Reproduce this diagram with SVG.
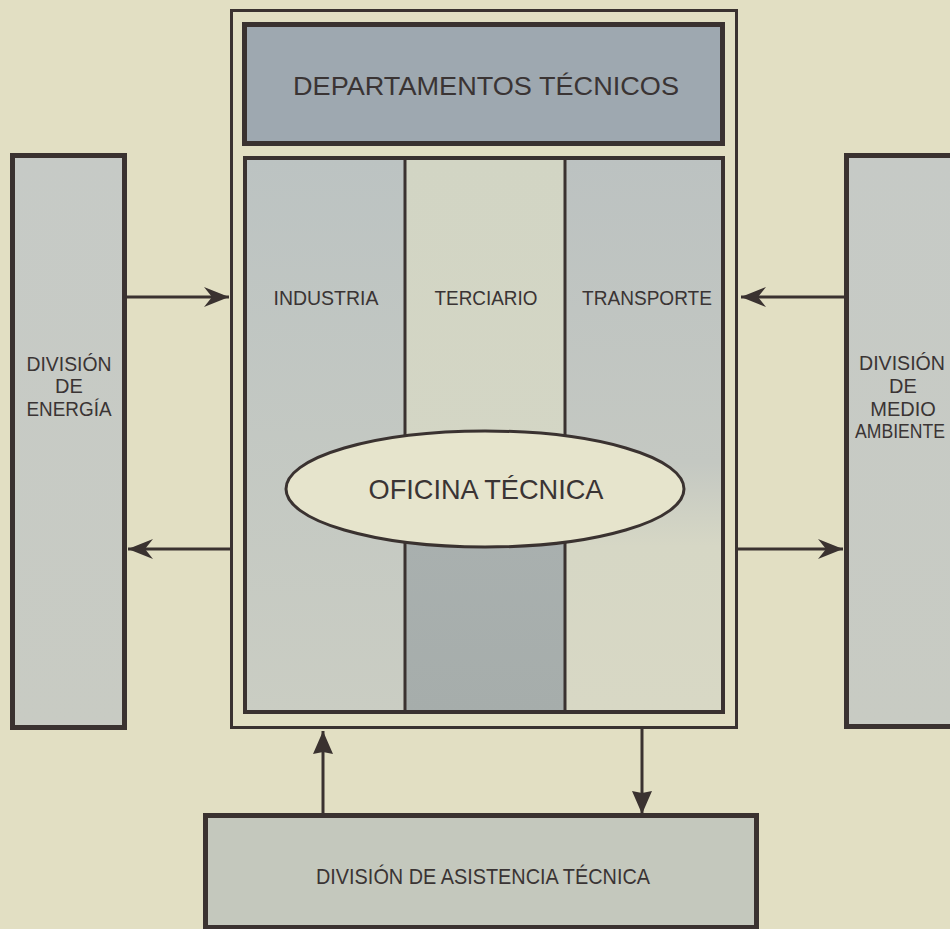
<svg xmlns="http://www.w3.org/2000/svg" width="950" height="929" viewBox="0 0 950 929">
<style>
.box{stroke:#3a3230;stroke-linejoin:miter}
.t{font-family:"Liberation Sans",Arial,sans-serif;fill:#3a3434;text-anchor:middle}
.con{stroke:#3a3230;stroke-width:3;fill:none}
</style>
<defs>
<linearGradient id="gCol1" x1="0" y1="0" x2="0" y2="1">
<stop offset="0" stop-color="#bcc3c2"/><stop offset="1" stop-color="#cacdc3"/>
</linearGradient>
<linearGradient id="gCol2" x1="0" y1="0" x2="0" y2="1">
<stop offset="0" stop-color="#d2d5c4"/><stop offset="0.59" stop-color="#d4d6c5"/><stop offset="0.59" stop-color="#aab1b0"/><stop offset="1" stop-color="#a6adab"/>
</linearGradient>
<linearGradient id="gCol3" x1="0" y1="0" x2="0" y2="1">
<stop offset="0" stop-color="#bcc2c1"/><stop offset="0.55" stop-color="#c4c8c2"/><stop offset="0.7" stop-color="#d6d7c5"/><stop offset="1" stop-color="#d8d8c5"/>
</linearGradient>
<linearGradient id="gSide" x1="0" y1="0" x2="0" y2="1">
<stop offset="0" stop-color="#c6cac6"/><stop offset="1" stop-color="#c8cbc3"/>
</linearGradient>
<marker id="barb" viewBox="-26 -12 28 24" refX="0" refY="0" markerWidth="28" markerHeight="24" markerUnits="userSpaceOnUse" orient="auto">
<path d="M0,0 L-25,-10 L-17,0 L-25,10 Z" fill="#3a3230"/>
</marker>
<marker id="tri" viewBox="-24 -12 26 24" refX="0" refY="0" markerWidth="26" markerHeight="24" markerUnits="userSpaceOnUse" orient="auto">
<path d="M0,0 L-23,-10 L-21,0 L-23,10 Z" fill="#3a3230"/>
</marker>
</defs>
<rect width="950" height="929" fill="#e2dfc3"/>

<g id="connectors">
<line class="con" x1="127" y1="297" x2="229" y2="297" marker-end="url(#barb)"/>
<line class="con" x1="231" y1="549" x2="128" y2="549" marker-end="url(#barb)"/>
<line class="con" x1="844" y1="297" x2="741" y2="297" marker-end="url(#barb)"/>
<line class="con" x1="738" y1="549" x2="843" y2="549" marker-end="url(#barb)"/>
<line class="con" x1="323" y1="814" x2="323" y2="731" marker-end="url(#tri)"/>
<line class="con" x1="642" y1="729" x2="642" y2="814" marker-end="url(#tri)"/>
</g>

<g id="oficina-frame">
<rect class="box" x="231.5" y="10.5" width="505" height="717" fill="none" stroke-width="3"/>
</g>

<g id="departamentos">
<rect class="box" x="244.5" y="24.5" width="478" height="119" fill="#9ea8b0" stroke-width="5"/>
<text class="t" x="486" y="95" font-size="26" textLength="386" lengthAdjust="spacingAndGlyphs">DEPARTAMENTOS TÉCNICOS</text>
</g>

<g id="columnas">
<rect x="245" y="158" width="160" height="554" fill="url(#gCol1)"/>
<rect x="405" y="158" width="160" height="554" fill="url(#gCol2)"/>
<rect x="565" y="158" width="158" height="554" fill="url(#gCol3)"/>
<rect class="box" x="245" y="158" width="478" height="554" fill="none" stroke-width="4"/>
<line class="box" x1="405" y1="158" x2="405" y2="712" stroke-width="3"/>
<line class="box" x1="565" y1="158" x2="565" y2="712" stroke-width="3"/>
</g>

<g id="industria">
<text class="t" x="326" y="305" font-size="20" textLength="105" lengthAdjust="spacingAndGlyphs">INDUSTRIA</text>
</g>
<g id="terciario">
<text class="t" x="486" y="305" font-size="20" textLength="103" lengthAdjust="spacingAndGlyphs">TERCIARIO</text>
</g>
<g id="transporte">
<text class="t" x="647" y="305" font-size="20" textLength="130" lengthAdjust="spacingAndGlyphs">TRANSPORTE</text>
</g>

<g id="oficina-tecnica">
<ellipse class="box" cx="485" cy="489" rx="199" ry="58" fill="#e6e4cc" stroke-width="3"/>
<text class="t" x="486" y="499" font-size="28" textLength="235" lengthAdjust="spacingAndGlyphs">OFICINA TÉCNICA</text>
</g>

<g id="division-energia">
<rect class="box" x="12.5" y="155.5" width="112" height="572" fill="url(#gSide)" stroke-width="5"/>
<text class="t" x="69" y="371" font-size="20" textLength="85" lengthAdjust="spacingAndGlyphs">DIVISIÓN</text>
<text class="t" x="69" y="393" font-size="20">DE</text>
<text class="t" x="69" y="416" font-size="20" textLength="85" lengthAdjust="spacingAndGlyphs">ENERGÍA</text>
</g>

<g id="division-medio-ambiente">
<rect class="box" x="846.5" y="155.5" width="120" height="571" fill="url(#gSide)" stroke-width="5"/>
<text class="t" x="902" y="370" font-size="20" textLength="86" lengthAdjust="spacingAndGlyphs">DIVISIÓN</text>
<text class="t" x="903" y="393" font-size="20">DE</text>
<text class="t" x="903" y="416" font-size="20">MEDIO</text>
<text class="t" x="900" y="438" font-size="20" textLength="90" lengthAdjust="spacingAndGlyphs">AMBIENTE</text>
</g>

<g id="division-asistencia">
<rect class="box" x="205.5" y="815.5" width="551" height="112" fill="#c4c8bd" stroke-width="5"/>
<text class="t" x="483" y="884" font-size="22" textLength="334" lengthAdjust="spacingAndGlyphs">DIVISIÓN DE ASISTENCIA TÉCNICA</text>
</g>
</svg>
